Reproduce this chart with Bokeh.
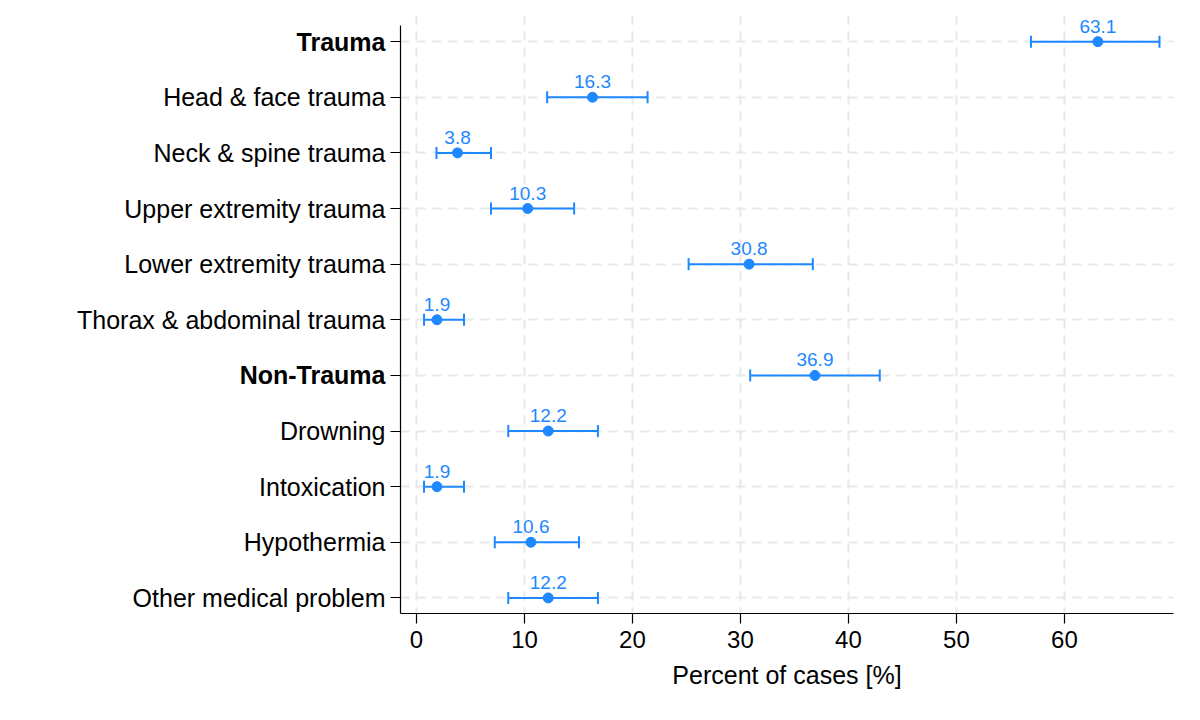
from bokeh.plotting import figure
from bokeh.models import ColumnDataSource, Whisker, FixedTicker, Range1d, TeeHead
from bokeh.layouts import row
from bokeh.core.properties import value
from bokeh.embed import file_html
from bokeh.resources import INLINE

categories = ["Trauma", "Head & face trauma", "Neck & spine trauma", "Upper extremity trauma",
              "Lower extremity trauma", "Thorax & abdominal trauma", "Non-Trauma", "Drowning",
              "Intoxication", "Hypothermia", "Other medical problem"]
bold_rows = ["Trauma", "Non-Trauma"]
percent = [63.1, 16.3, 3.8, 10.3, 30.8, 1.9, 36.9, 12.2, 1.9, 10.6, 12.2]
ci_low = [56.9, 12.1, 1.85, 6.9, 25.2, 0.7, 30.9, 8.5, 0.7, 7.25, 8.5]
ci_high = [68.8, 21.4, 6.9, 14.6, 36.7, 4.4, 42.9, 16.8, 4.4, 15.05, 16.8]
x_ticks = [0, 10, 20, 30, 40, 50, 60]

FONT = "Liberation Sans"
BLUE = "#1E88FF"
FS = "25px"

rows = list(range(len(categories)))
src = ColumnDataSource(dict(y=rows, x=percent, lo=ci_low, hi=ci_high,
                            lbl=[f"{v:.1f}" for v in percent]))
# frame extends a little above the axis so the top value label is not clipped
yr = Range1d(10.28, -0.47)
TOP = 15

# left panel holding the category labels (allows bold group labels)
LW = 386
left = figure(width=LW, height=704, output_backend="svg", toolbar_location=None,
              x_range=Range1d(0, LW), y_range=yr, min_border_left=0, min_border_right=0,
              min_border_top=TOP, min_border_bottom=91)
left.axis.visible = False
left.grid.visible = False
left.outline_line_color = None
lsrc = ColumnDataSource(dict(y=rows, x=[LW - 1] * len(rows), t=categories,
                             st=["bold" if c in bold_rows else "normal" for c in categories]))
left.text("x", "y", text="t", source=lsrc, text_align="right", text_baseline="middle",
          text_font=value(FONT), text_font_size=FS, text_font_style="st", text_color="black")

p = figure(width=1184 - LW, height=704, output_backend="svg", toolbar_location=None,
           x_range=Range1d(-1.48, 70.1), y_range=yr,
           min_border_left=400 - LW, min_border_right=11, min_border_top=TOP, min_border_bottom=91)
p.outline_line_color = None
p.background_fill_color = "white"

p.xgrid.grid_line_color = "#e8e8e8"
p.ygrid.grid_line_color = "#e8e8e8"
p.xgrid.grid_line_dash = "9 7"
p.ygrid.grid_line_dash = "9 7"
p.xgrid.grid_line_width = 2
p.ygrid.grid_line_width = 2

w = Whisker(source=src, base="y", lower="lo", upper="hi", dimension="width",
            line_color=BLUE, line_width=2,
            lower_head=TeeHead(size=12, line_color=BLUE, line_width=2),
            upper_head=TeeHead(size=12, line_color=BLUE, line_width=2))
p.add_layout(w)
p.scatter("x", "y", source=src, size=10, color=BLUE)
p.text("x", "y", text="lbl", source=src, text_align="center", text_baseline="bottom",
       y_offset=-9, text_color=BLUE, text_font_size="19px", text_font=value(FONT))

# axes
p.yaxis.ticker = FixedTicker(ticks=rows)
p.yaxis.major_label_overrides = {i: "" for i in rows}
p.yaxis.major_label_standoff = 0
p.yaxis.bounds = (-0.29, 10.28)
p.xaxis.ticker = FixedTicker(ticks=x_ticks)
for ax in (p.xaxis, p.yaxis):
    ax.axis_line_color = "black"
    ax.axis_line_width = 1.2
    ax.major_tick_line_color = "black"
    ax.major_tick_line_width = 1.2
    ax.major_tick_out = 10
    ax.major_tick_in = 0
    ax.minor_tick_line_color = None
    ax.major_label_text_font = FONT
    ax.major_label_text_font_size = "24px"
    ax.major_label_text_color = "black"
p.xaxis.major_label_standoff = 7
p.xaxis.axis_label = "Percent of cases [%]"
p.xaxis.axis_label_text_font = FONT
p.xaxis.axis_label_text_font_size = FS
p.xaxis.axis_label_text_font_style = "normal"
p.xaxis.axis_label_text_color = "black"
p.xaxis.axis_label_standoff = 10

layout = row(left, p, spacing=0)
open("out.html", "w").write(file_html(layout, INLINE))
